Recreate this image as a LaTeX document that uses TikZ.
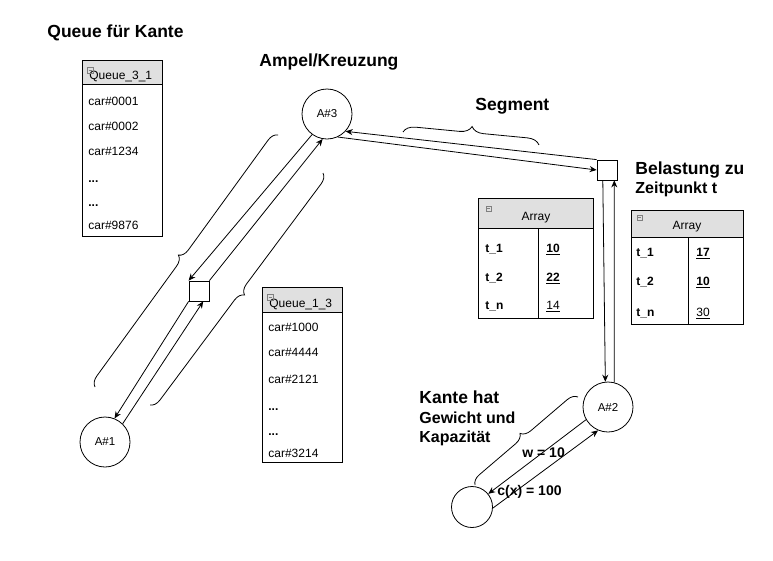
\documentclass[tikz,border=0pt]{standalone}
\usepackage{fontspec}
\setmainfont{Liberation Sans}
\usepackage{tikz}
\usetikzlibrary{arrows.meta, positioning, decorations.pathreplacing}
\definecolor{HDgray}{RGB}{224,224,224}
\newcommand{\fsz}[1]{\fontsize{#1}{#1}\selectfont}

\begin{document}
\begin{tikzpicture}[x=1pt, y=-1pt, line width=0.8pt,
    >={Stealth[length=7pt,width=6pt]},
    ampel/.style={circle, draw, minimum size=50pt, inner sep=0pt, font=\fsz{11.5}},
    knot/.style={rectangle, draw, fill=white, minimum size=20pt, inner sep=0pt},
    title/.style={anchor=base west, inner sep=0pt, font=\fsz{17.5}\bfseries},
    subtitle/.style={anchor=base west, inner sep=0pt, font=\fsz{16}\bfseries},
    small/.style={anchor=base west, inner sep=0pt, font=\fsz{14}\bfseries},
    entry/.style={anchor=base west, inner sep=0pt, font=\fsz{12}},
    icon/.style={draw=gray, line width=0.5pt},
    cbrace/.style={decorate, decoration={brace, amplitude=#1}},
    cbrace/.default=10]
  \useasboundingbox (0,0) rectangle (773,560);

  % Ueberschriften
  \node[title] (tQueue) at (47,37.5) {Queue für Kante};
  \node[title] (tAmpel) at (259,66) {Ampel/Kreuzung};
  \node[title] (tSeg) at (475,110.5) {Segment};
  \node[title] (tLast) at (635,174) {Belastung zu};
  \node[subtitle] (tZeit) at (635,193) {Zeitpunkt t};
  \node[title] (tKante) at (419,403) {Kante hat};
  \node[subtitle] (tGew) at (419,423) {Gewicht und};
  \node[subtitle] (tKap) at (419,442.5) {Kapazität};
  \node[small] (tW) at (522,457) {w = 10};
  \node[small] (tC) at (497,495) {c(x) = 100};

  % Kreuzungen und Segmentknoten
  \node[ampel] (a3) at (327,114) {A\#3};
  \node[ampel] (a1) at (105,442) {A\#1};
  \node[ampel] (a2) at (608,407) {A\#2};
  \node[ampel, minimum size=41pt] (ziel) at (472,507) {};
  \node[knot] (kA) at (199,291) {};
  \node[knot] (kB) at (607,170) {};

  % Kanten
  \draw[->] (kB.north west) -- (a3.-43);
  \draw[->] (a3.-65) -- (kB.west);
  \draw[->] (kB.-112) -- (a2.96);
  \draw[->] (a2.76) -- (kB.-55);
  \draw[->] (a3.-126) -- (kA.north west);
  \draw[->] (kA.north east) -- (a3.-100);
  \draw[->] (kA.south west) -- (a1.68);
  \draw[->] (a1.46) -- (kA.-68);
  \draw[->] (a2.-150) -- (ziel.39);
  \draw[->] (ziel.-3) -- (a2.-113);

  % Klammern
  \draw[cbrace=12] (403,132) -- (539,145);
  \draw[cbrace] (95,387) -- (278,135);
  \draw[cbrace] (323,173) -- (150,405);
  \draw[cbrace] (475,485) -- (578,397);

  % Queue_3_1
  \draw[fill=HDgray] (82,60) rectangle (162,84);
  \draw (82,84) rectangle (162,236);
  \node[entry] (q31) at (89,79.5) {Queue\_3\_1};
  \draw[icon] (87,67) rectangle (93,73) (88.5,70) -- (91.5,70);
  \foreach \t/\y in {car\#0001/105, car\#0002/130, car\#1234/155.5,
      \textbf{...}/182, \textbf{...}/206, car\#9876/229.5}
    \node[entry] at (88,\y) {\t};

  % Queue_1_3
  \draw[fill=HDgray] (262,287) rectangle (342,312);
  \draw (262,312) rectangle (342,462);
  \node[entry] (q13) at (269,307) {Queue\_1\_3};
  \draw[icon] (267,294) rectangle (273,300) (268.5,297) -- (271.5,297);
  \foreach \t/\y in {car\#1000/331.5, car\#4444/356.5, car\#2121/383.5,
      \textbf{...}/410, \textbf{...}/435, car\#3214/457.5}
    \node[entry] at (268,\y) {\t};

  % Array 1
  \draw[fill=HDgray] (478,198) rectangle (593,228);
  \draw (478,228) rectangle (593,318);
  \draw (538,228) -- (538,318);
  \node[font=\fsz{12}] (arr1) at (536,218) {Array};
  \draw[icon] (486,206) rectangle (491,211) (487,208.5) -- (490,208.5);
  \node[entry, font=\fsz{12}\bfseries] at (485,252.3) {t\_1};
  \node[entry, font=\fsz{12}\bfseries] at (485,281.3) {t\_2};
  \node[entry, font=\fsz{12}\bfseries] at (485,309.3) {t\_n};
  \node[entry] at (546,252.3) {\underline{\textbf{10}}};
  \node[entry] at (546,281.3) {\underline{\textbf{22}}};
  \node[entry] at (546,309.3) {\underline{14}};

  % Array 2
  \draw[fill=HDgray] (631,210) rectangle (743,237);
  \draw (631,237) rectangle (743,324);
  \draw (688,237) -- (688,324);
  \node[font=\fsz{12}] (arr2) at (687,227) {Array};
  \draw[icon] (637,215) rectangle (642,220) (638,217.5) -- (641,217.5);
  \node[entry, font=\fsz{12}\bfseries] at (636,256.3) {t\_1};
  \node[entry, font=\fsz{12}\bfseries] at (636,285.3) {t\_2};
  \node[entry, font=\fsz{12}\bfseries] at (636,316.3) {t\_n};
  \node[entry] at (696,256.3) {\underline{\textbf{17}}};
  \node[entry] at (696,285.3) {\underline{\textbf{10}}};
  \node[entry] at (696,316.3) {\underline{30}};
\end{tikzpicture}
\end{document}
